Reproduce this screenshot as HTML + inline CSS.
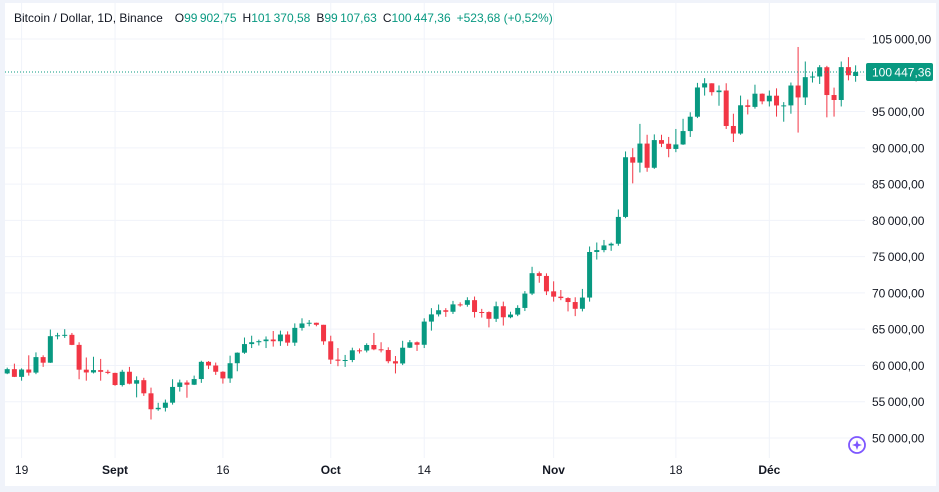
<!DOCTYPE html>
<html><head><meta charset="utf-8"><style>
body{margin:0;background:#fff;width:939px;height:492px;overflow:hidden;font-family:"Liberation Sans",sans-serif}
svg{position:absolute;left:0;top:0}
</style></head><body>
<svg id="c" width="939" height="492"></svg>
<script>
const closes=[59490,58427,59439,59014,61150,60380,64037,64157,64220,62834,59416,59034,59359,59123,58973,
57301,59132,57487,57970,56160,53962,54160,54869,57040,57650,57343,58127,60498,59993,59132,58213,60309,61759,62947,63201,63348,63578,63339,64262,63144,65181,65790,65887,65604,63327,
60805,60649,60752,62087,62058,62819,62224,62131,60582,60274,62445,63193,62851,66046,67041,67612,67399,68418,68362,69002,67367,67361,66432,68161,66642,67014,67929,69907,72720,72339,70215,
69482,69289,68741,67811,69359,75639,75904,76545,76778,80474,88701,87955,90584,87250,91066,90558,89845,90464,92310,94286,98318,98893,97672,97900,93010,91965,95863,95643,97460,96407,
97185,95840,95849,98587,96945,99740,99831,101109,97276,96593,101125,100004,100447.36];
const opens=[58900,59490,58427,59439,59014,61150,60380,64037,64157,64220,62834,59416,59034,59359,59123,
58973,57301,59132,57487,57970,56160,53962,54160,54869,57040,57650,57343,58127,60498,59993,59132,58213,60309,61759,62947,63201,63348,63578,63339,64262,63144,65181,65790,65887,65604,
63327,60805,60649,60752,62087,62058,62819,62224,62131,60582,60274,62445,63193,62851,66046,67041,67612,67399,68418,68362,69002,67367,67361,66432,68161,66642,67014,67929,69907,72720,72339,
70215,69482,69289,68741,67811,69359,75639,75904,76545,76778,80474,88701,87955,90584,87250,91066,90558,89845,90464,92310,94286,98318,98893,97672,97900,93010,91965,95863,95643,97460,
96407,97185,95840,95849,98587,96945,99740,99831,101109,97276,96593,101125,99902.75];
const highs=[59700,60250,59600,61400,61800,61400,64950,64500,65000,64480,63200,61100,61200,60900,59400,
59000,59400,59800,58500,58300,56950,54850,55300,58100,58050,57950,58600,60650,60600,60400,59200,61350,61800,63850,64100,63560,64000,64750,64800,64700,65800,66500,66260,65900,65600,
64100,62400,61450,62450,62350,63050,64480,63200,62500,61300,63400,63500,63300,66500,67900,68400,67900,68900,68700,69400,69500,67800,67450,68800,68800,67400,68300,70250,73600,72950,72700,
71600,70400,69400,69400,70550,76400,76950,77300,76950,81500,89500,89950,93300,91800,91850,91800,91500,92600,94000,94900,98950,99600,98900,98600,98900,94700,97200,96650,98700,97500,
97900,98200,96300,99000,103900,101900,100400,101400,101300,98300,101900,102500,101370.58];
const lows=[58800,58400,57900,58600,58800,59800,60350,63600,63800,62800,58100,57900,58900,57900,58800,
57200,57100,57400,55600,55800,52550,53750,53650,54600,56400,55550,57300,57600,59500,58700,57500,57600,59200,61600,62400,62750,62400,62600,62700,62700,62700,64800,65400,65400,62850,
60200,59900,59800,60450,61650,61800,62100,61800,60300,58900,60050,62400,62000,62400,64800,66750,66700,67100,68100,68100,66600,66600,65250,66000,65500,66500,66800,67500,69700,71400,69700,
68800,69000,67450,66800,67450,68800,74600,75600,75800,76500,80300,85100,86600,86700,87100,90100,88700,89400,90400,91500,94100,97200,97200,95800,92600,90800,91800,94600,95400,96000,
95700,94300,93600,94700,92100,95900,99000,98800,94200,94300,95700,99300,99107.63];
const yTicks=[105000,100000,95000,90000,85000,80000,75000,70000,65000,60000,55000,50000];
const xLabels=["19","Sept","16","Oct","14","Nov","18","Déc"];
const xLabelIdx=[2,15,30,45,58,76,93,106];

const NS="http://www.w3.org/2000/svg";
const svg=document.getElementById('c');
const X0=7.2,DX=7.19,PR=865,PB=458;
const xS=i=>X0+i*DX;
const yS=p=>39+(105000-p)*0.0072545;
function el(t,a,p){const e=document.createElementNS(NS,t);for(const k in a)e.setAttribute(k,a[k]);(p||svg).appendChild(e);return e;}
function fmt(v){const s=v.toFixed(2).split('.');return s[0].replace(/\B(?=(\d{3})+(?!\d))/g,'\u2009')+','+s[1];}
// frame
el('rect',{x:0,y:0,width:939,height:492,fill:'#f0f3fa'});
el('rect',{x:5,y:3,width:931,height:483,fill:'#fff'});
// grid
yTicks.forEach(v=>{const l=el('line',{x1:5,x2:PR,y1:yS(v),y2:yS(v),stroke:'#f0f3fa','stroke-width':1});


const t=el('text',{x:872,y:yS(v)+4.5,'font-size':12,fill:'#131722'});t.textContent=fmt(v).replace(/,00$/,',00');

});
xLabelIdx.forEach((idx,k)=>{const x=xS(idx);const l=el('line',{x1:x,x2:x,y1:3,y2:PB,stroke:'#f0f3fa','stroke-width':1});


const t=el('text',{x:x,y:474,'font-size':12,fill:'#131722','text-anchor':'middle','font-weight':xLabels[k].length>2?'bold':'normal'});t.textContent=xLabels[k];

});
// candles
closes.forEach((c,i)=>{const o=opens[i],h=highs[i],l=lows[i];const col=c>=o?'#089981':'#f23645';const x=xS(i);
const g=el('g',{});


el('line',{x1:x,x2:x,y1:yS(h),y2:yS(l),stroke:col,'stroke-width':1},g);
const top=yS(Math.max(o,c)),bot=yS(Math.min(o,c));
el('rect',{x:x-2.5,y:top,width:5,height:Math.max(1,bot-top),fill:col},g);});
// last price line
const last=closes[closes.length-1];
const pl=el('line',{x1:5,x2:PR,y1:yS(last),y2:yS(last),stroke:'#089981','stroke-width':1,'stroke-dasharray':'1 2'});


const pb=el('rect',{x:866,y:yS(last)-9,width:67,height:18,rx:2,fill:'#089981'});


const pt=el('text',{x:872,y:yS(last)+4.5,'font-size':12,fill:'#fff'});pt.textContent=fmt(last);


// header
const hd=el('text',{x:14,y:22,'font-size':12,fill:'#131722'});


hd.innerHTML='Bitcoin / Dollar, 1D, Binance\u2003O<tspan fill="#089981">99\u2009902,75</tspan>\u2002H<tspan fill="#089981">101\u2009370,58</tspan>\u2002B<tspan fill="#089981">99\u2009107,63</tspan>\u2002C<tspan fill="#089981">100\u2009447,36</tspan>\u2002<tspan fill="#089981">+523,68 (+0,52%)</tspan>';
// icon
const ic=el('g',{});


el('circle',{cx:857,cy:445,r:8,fill:'none',stroke:'#7e57ff','stroke-width':1.8},ic);
el('path',{d:'M857 440 L858.3 443.7 L862 445 L858.3 446.3 L857 450 L855.7 446.3 L852 445 L855.7 443.7Z',fill:'#7e57ff'},ic);
</script>
</body></html>
